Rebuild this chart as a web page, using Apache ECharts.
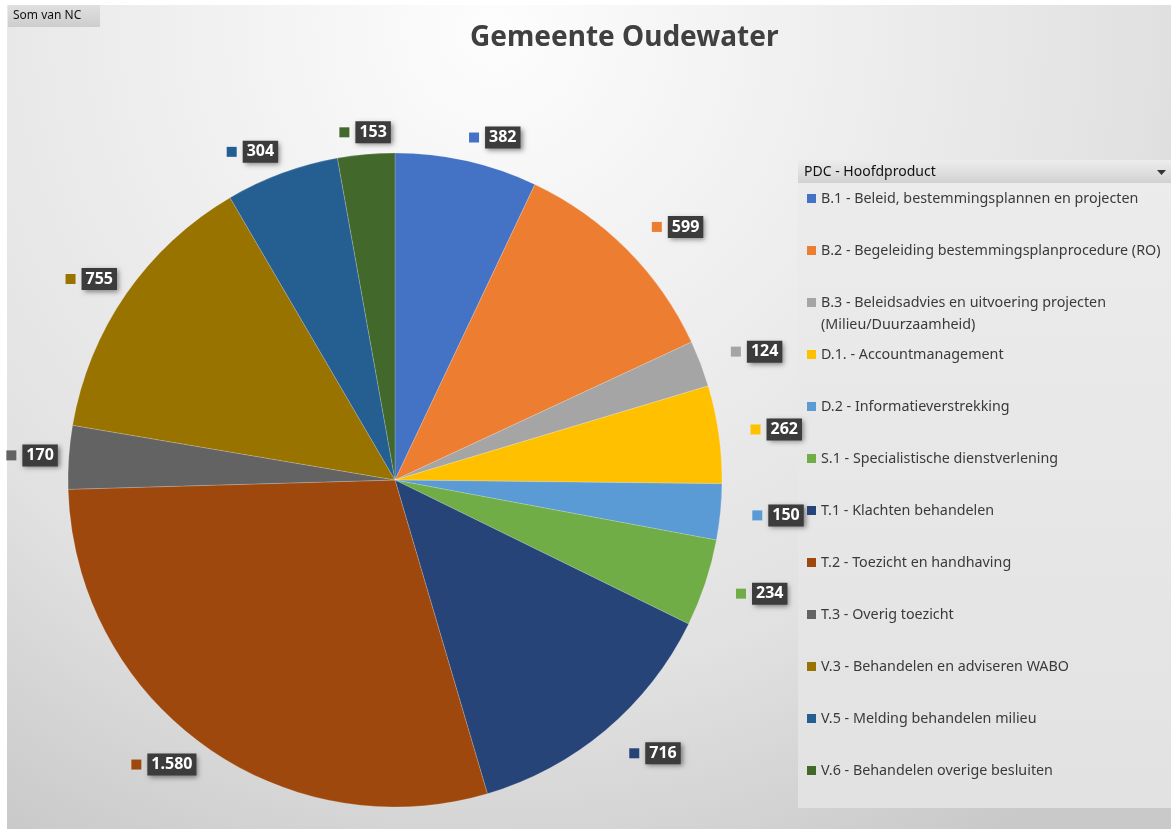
<!DOCTYPE html>
<html>
<head>
<meta charset="utf-8">
<script src="https://cdn.jsdelivr.net/npm/echarts@6/dist/echarts.min.js"></script>
<style>
  html, body { margin: 0; padding: 0; background: #fff; }
  #main { width: 1171px; height: 829px; }
</style>
</head>
<body>
<div id="main"></div>
<script>
var myChart = echarts.init(document.getElementById("main"));//init

var categories = [
    "B.1 - Beleid, bestemmingsplannen en projecten",
    "B.2 - Begeleiding bestemmingsplanprocedure (RO)",
    "B.3 - Beleidsadvies en uitvoering projecten\n(Milieu/Duurzaamheid)",
    "D.1. - Accountmanagement",
    "D.2 - Informatieverstrekking",
    "S.1 - Specialistische dienstverlening",
    "T.1 - Klachten behandelen",
    "T.2 - Toezicht en handhaving",
    "T.3 - Overig toezicht",
    "V.3 - Behandelen en adviseren WABO",
    "V.5 - Melding behandelen milieu",
    "V.6 - Behandelen overige besluiten"
];
var values = [382, 599, 124, 262, 150, 234, 716, 1580, 170, 755, 304, 153];
var colors = ["#4472C4", "#ED7D31", "#A5A5A5", "#FFC000", "#5B9BD5", "#70AD47",
              "#264478", "#9E480E", "#636363", "#997300", "#255E91", "#43682B"];

var CX = 395, CY = 480, R = 327;

// mid angle of every slice (from 12 o'clock, clockwise)
var total = values.reduce(function (a, b) { return a + b; }, 0);
var midAngles = [];
var acc = 0;
values.forEach(function (v) {
    midAngles.push((acc + v / 2) / total * Math.PI * 2);
    acc += v;
});

function fmt(v) {
    return String(v).replace(/\B(?=(\d{3})+(?!\d))/g, ".");
}
function clamp(v, lo, hi) { return Math.max(lo, Math.min(hi, v)); }

var pieData = categories.map(function (name, i) {
    return { name: name, value: values[i], itemStyle: { color: colors[i] } };
});

var rich = {
    gap: { width: 6 },
    v: {
        backgroundColor: "#3c3c3c",
        color: "#fff",
        fontWeight: "bold",
        fontSize: 16,
        fontFamily: "Noto Sans",
        lineHeight: 18,
        padding: [3, 4, 3, 4],
        shadowBlur: 5,
        shadowColor: "rgba(0,0,0,0.45)",
        shadowOffsetX: 2,
        shadowOffsetY: 2
    }
};
colors.forEach(function (c, i) {
    rich["s" + i] = { width: 10, height: 10, backgroundColor: c };
});

// legend built by hand (Excel style, fixed row pitch)
var legendEls = [];
categories.forEach(function (name, i) {
    var y = 199 + i * 52;
    legendEls.push({
        type: "rect", z: 20,
        shape: { x: 807, y: y - 5, width: 9, height: 9 },
        style: { fill: colors[i] }
    });
    legendEls.push({
        type: "text", z: 20,
        x: 821, y: y - 11,
        style: {
            text: name, fill: "#3a3a3a", font: "14.3px 'Noto Sans'",
            lineHeight: 22, verticalAlign: "top"
        }
    });
});

option = {
    animation: false,
    title: {
        text: "Gemeente Oudewater",
        left: 465,
        top: 19,
        textStyle: { fontSize: 28, fontWeight: "bold", fontFamily: "Noto Sans", color: "#404040" }
    },
    graphic: [
        {
            type: "rect", z: -10,
            shape: { x: 7, y: 5, width: 1164, height: 824 },
            style: {
                fill: {
                    type: "radial", x: 0.42, y: 0.03, r: 1.14,
                    colorStops: [
                        { offset: 0, color: "#fdfdfd" },
                        { offset: 0.3, color: "#f1f1f1" },
                        { offset: 0.7, color: "#e1e1e1" },
                        { offset: 1, color: "#c9c9c9" }
                    ]
                }
            }
        },
        {
            type: "rect", z: -5,
            shape: { x: 8, y: 5, width: 92, height: 22 },
            style: {
                fill: { type: "linear", x: 0, y: 0, x2: 0, y2: 1,
                    colorStops: [{ offset: 0, color: "#e0e0e0" }, { offset: 1, color: "#cdcdcd" }] }
            }
        },
        {
            type: "text", z: -4, x: 13, y: 16,
            style: { text: "Som van NC", fill: "#111", font: "12px 'Noto Sans'", verticalAlign: "middle" }
        },
        {
            type: "rect", z: -5,
            shape: { x: 798, y: 160, width: 373, height: 648 },
            style: {
                fill: { type: "linear", x: 0, y: 0, x2: 0, y2: 1,
                    colorStops: [{ offset: 0, color: "#ececec" }, { offset: 1, color: "#e2e2e2" }] }
            }
        },
        {
            type: "rect", z: -4,
            shape: { x: 798, y: 161, width: 373, height: 22 },
            style: {
                fill: { type: "linear", x: 0, y: 0, x2: 0, y2: 1,
                    colorStops: [{ offset: 0, color: "#ececec" }, { offset: 1, color: "#d2d2d2" }] }
            }
        },
        {
            type: "text", z: -3, x: 804, y: 172,
            style: { text: "PDC - Hoofdproduct", fill: "#111", font: "14px 'Noto Sans'", verticalAlign: "middle" }
        },
        {
            type: "polygon", z: -3,
            shape: { points: [[1157, 170], [1166, 170], [1161.5, 175]] },
            style: { fill: "#333" }
        }
    ].concat(legendEls),
    series: [{
        type: "pie",
        center: [CX, CY],
        radius: R,
        startAngle: 90,
        clockwise: true,
        data: pieData,
        itemStyle: { borderColor: "rgba(255,255,255,0.3)", borderWidth: 0.6 },
        label: {
            show: true,
            position: "inside",
            formatter: function (p) {
                return "{s" + p.dataIndex + "|}{gap|}{v|" + fmt(p.value) + "}";
            },
            rich: rich
        },
        labelLine: { show: false },
        // Excel-like "outside end" placement
        labelLayout: function (p) {
            var a = midAngles[p.dataIndex];
            var ux = Math.sin(a), uy = -Math.cos(a);
            var w = p.labelRect.width, h = p.labelRect.height;
            var d = R + 11 + 8 * Math.max(0, ux);
            var px = CX + d * ux, py = CY + d * uy;
            var fx = Math.sign(ux) * clamp((Math.abs(ux) - 0.1) * 8, 0, 1);
            var fy = clamp(uy * 1.4, -1, 1);
            var shift = 13 * clamp((ux - 0.2) * 3, 0, 1);
            return {
                x: px + fx * w / 2 + shift,
                y: py + fy * h / 2,
                align: "center",
                verticalAlign: "middle"
            };
        },
        emphasis: { disabled: true }
    }]
};
myChart.setOption(option);//draw
</script>
</body>
</html>
